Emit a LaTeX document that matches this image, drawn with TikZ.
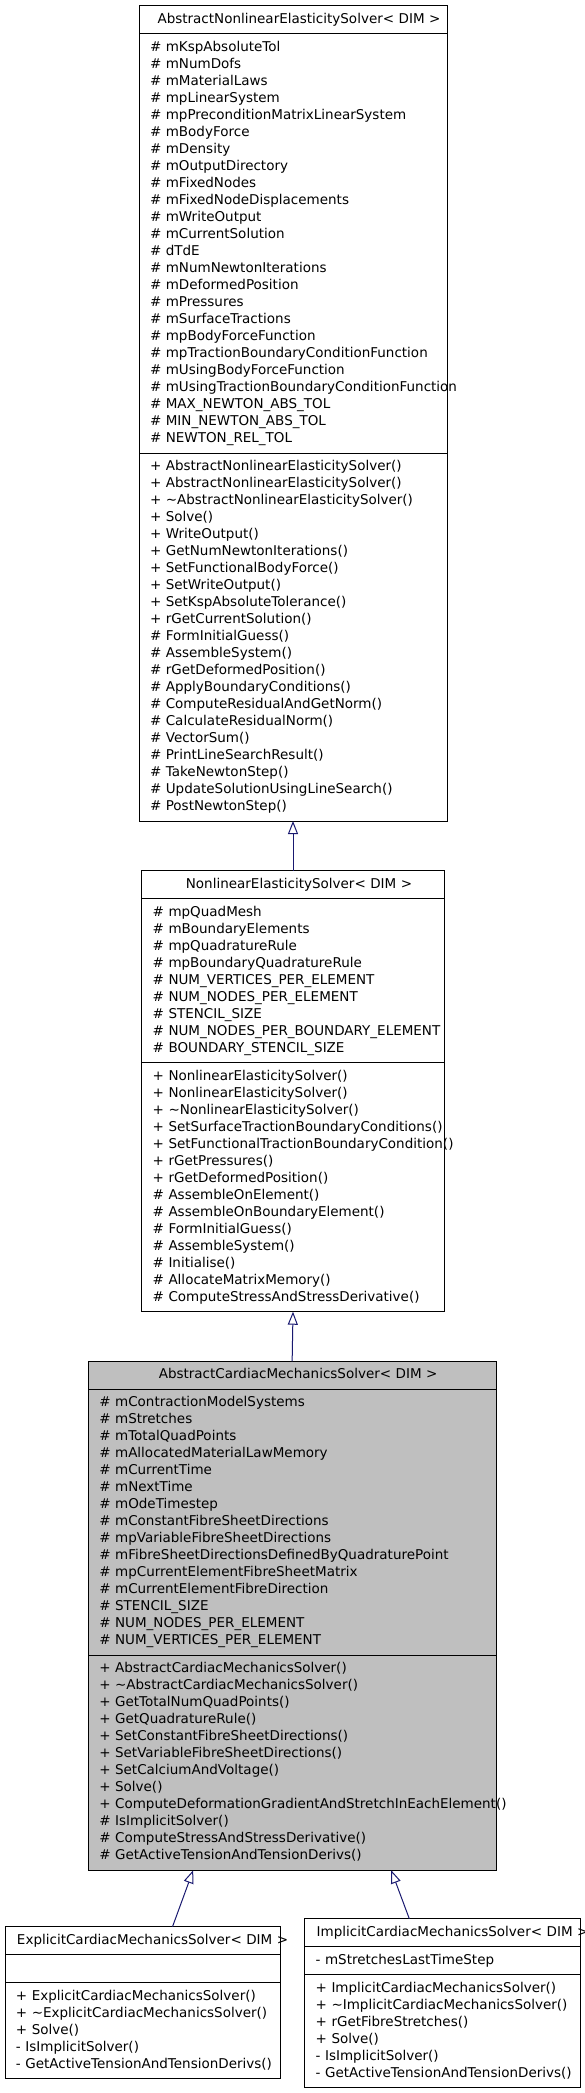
\documentclass[tikz,border=0pt]{standalone}
\usepackage{fontspec}
\setmainfont{DejaVu Sans}
\usetikzlibrary{positioning, arrows.meta}
\definecolor{classgray}{HTML}{BFBFBF}
\definecolor{edgenavy}{HTML}{191970}
\tikzset{
  classtitle/.style={draw, line width=1pt, outer sep=0pt, inner xsep=0pt, inner ysep=5.5pt, align=center},
  classpart/.style={draw, line width=1pt, outer sep=0pt, inner xsep=11pt, inner ysep=5.5pt, align=left},
  inherit/.style={draw=edgenavy, line width=1pt, -{Triangle[open, length=13pt, width=10pt]}},
}
\newcommand{\classrows}[1]{\begin{tabular}{@{}l@{}}#1\end{tabular}}

\begin{document}
\begin{tikzpicture}[x=1pt, y=1pt, font=\fontsize{13.5}{17}\selectfont]
    \useasboundingbox (0,0) rectangle (584,-2093);

    % AbstractNonlinearElasticitySolver
    \node[classtitle, text width=308pt, anchor=north west] (anes) at (139,-6) {\mbox{\kern12pt\strut AbstractNonlinearElasticitySolver< DIM >}};
    \node[classpart, text width=286pt, below=0pt of anes] (anes-a) {\classrows{%
        \# mKspAbsoluteTol\\
        \# mNumDofs\\
        \# mMaterialLaws\\
        \# mpLinearSystem\\
        \# mpPreconditionMatrixLinearSystem\\
        \# mBodyForce\\
        \# mDensity\\
        \# mOutputDirectory\\
        \# mFixedNodes\\
        \# mFixedNodeDisplacements\\
        \# mWriteOutput\\
        \# mCurrentSolution\\
        \# dTdE\\
        \# mNumNewtonIterations\\
        \# mDeformedPosition\\
        \# mPressures\\
        \# mSurfaceTractions\\
        \# mpBodyForceFunction\\
        \# mpTractionBoundaryConditionFunction\\
        \# mUsingBodyForceFunction\\
        \# mUsingTractionBoundaryConditionFunction\\
        \# MAX\_NEWTON\_ABS\_TOL\\
        \# MIN\_NEWTON\_ABS\_TOL\\
        \# NEWTON\_REL\_TOL}};
    \node[classpart, text width=286pt, below=0pt of anes-a] (anes-m) {\classrows{%
        + AbstractNonlinearElasticitySolver()\\
        + AbstractNonlinearElasticitySolver()\\
        + \textasciitilde AbstractNonlinearElasticitySolver()\\
        + Solve()\\
        + WriteOutput()\\
        + GetNumNewtonIterations()\\
        + SetFunctionalBodyForce()\\
        + SetWriteOutput()\\
        + SetKspAbsoluteTolerance()\\
        + rGetCurrentSolution()\\
        \# FormInitialGuess()\\
        \# AssembleSystem()\\
        \# rGetDeformedPosition()\\
        \# ApplyBoundaryConditions()\\
        \# ComputeResidualAndGetNorm()\\
        \# CalculateResidualNorm()\\
        \# VectorSum()\\
        \# PrintLineSearchResult()\\
        \# TakeNewtonStep()\\
        \# UpdateSolutionUsingLineSearch()\\
        \# PostNewtonStep()}};

    % NonlinearElasticitySolver
    \node[classtitle, text width=302.6pt, anchor=north west] (nes) at (141.7,-870.7) {\mbox{\kern12pt\strut NonlinearElasticitySolver< DIM >}};
    \node[classpart, text width=280.6pt, below=0pt of nes] (nes-a) {\classrows{%
        \# mpQuadMesh\\
        \# mBoundaryElements\\
        \# mpQuadratureRule\\
        \# mpBoundaryQuadratureRule\\
        \# NUM\_VERTICES\_PER\_ELEMENT\\
        \# NUM\_NODES\_PER\_ELEMENT\\
        \# STENCIL\_SIZE\\
        \# NUM\_NODES\_PER\_BOUNDARY\_ELEMENT\\
        \# BOUNDARY\_STENCIL\_SIZE}};
    \node[classpart, text width=280.6pt, below=0pt of nes-a] (nes-m) {\classrows{%
        + NonlinearElasticitySolver()\\
        + NonlinearElasticitySolver()\\
        + \textasciitilde NonlinearElasticitySolver()\\
        + SetSurfaceTractionBoundaryConditions()\\
        + SetFunctionalTractionBoundaryCondition()\\
        + rGetPressures()\\
        + rGetDeformedPosition()\\
        \# AssembleOnElement()\\
        \# AssembleOnBoundaryElement()\\
        \# FormInitialGuess()\\
        \# AssembleSystem()\\
        \# Initialise()\\
        \# AllocateMatrixMemory()\\
        \# ComputeStressAndStressDerivative()}};

    % AbstractCardiacMechanicsSolver
    \node[classtitle, fill=classgray, text width=407.7pt, anchor=north west] (acms) at (88.3,-1361.3) {\mbox{\kern12pt\strut AbstractCardiacMechanicsSolver< DIM >}};
    \node[classpart, fill=classgray, text width=385.7pt, below=0pt of acms] (acms-a) {\classrows{%
        \# mContractionModelSystems\\
        \# mStretches\\
        \# mTotalQuadPoints\\
        \# mAllocatedMaterialLawMemory\\
        \# mCurrentTime\\
        \# mNextTime\\
        \# mOdeTimestep\\
        \# mConstantFibreSheetDirections\\
        \# mpVariableFibreSheetDirections\\
        \# mFibreSheetDirectionsDefinedByQuadraturePoint\\
        \# mpCurrentElementFibreSheetMatrix\\
        \# mCurrentElementFibreDirection\\
        \# STENCIL\_SIZE\\
        \# NUM\_NODES\_PER\_ELEMENT\\
        \# NUM\_VERTICES\_PER\_ELEMENT}};
    \node[classpart, fill=classgray, text width=385.7pt, below=0pt of acms-a] (acms-m) {\classrows{%
        + AbstractCardiacMechanicsSolver()\\
        + \textasciitilde AbstractCardiacMechanicsSolver()\\
        + GetTotalNumQuadPoints()\\
        + GetQuadratureRule()\\
        + SetConstantFibreSheetDirections()\\
        + SetVariableFibreSheetDirections()\\
        + SetCalciumAndVoltage()\\
        + Solve()\\
        + ComputeDeformationGradientAndStretchInEachElement()\\
        \# IsImplicitSolver()\\
        \# ComputeStressAndStressDerivative()\\
        \# GetActiveTensionAndTensionDerivs()}};

    % ExplicitCardiacMechanicsSolver
    \node[classtitle, text width=275pt, anchor=north west] (ecms) at (5,-1926.7) {\mbox{\kern12pt\strut ExplicitCardiacMechanicsSolver< DIM >}};
    \node[classpart, text width=253pt, below=0pt of ecms] (ecms-a) {\strut};
    \node[classpart, text width=253pt, below=0pt of ecms-a] (ecms-m) {\classrows{%
        + ExplicitCardiacMechanicsSolver()\\
        + \textasciitilde ExplicitCardiacMechanicsSolver()\\
        + Solve()\\
        - IsImplicitSolver()\\
        - GetActiveTensionAndTensionDerivs()}};

    % ImplicitCardiacMechanicsSolver
    \node[classtitle, text width=276pt, anchor=north west] (icms) at (304.7,-1918.7) {\mbox{\kern12pt\strut ImplicitCardiacMechanicsSolver< DIM >}};
    \node[classpart, text width=254pt, below=0pt of icms] (icms-a) {\classrows{%
        - mStretchesLastTimeStep}};
    \node[classpart, text width=254pt, below=0pt of icms-a] (icms-m) {\classrows{%
        + ImplicitCardiacMechanicsSolver()\\
        + \textasciitilde ImplicitCardiacMechanicsSolver()\\
        + rGetFibreStretches()\\
        + Solve()\\
        - IsImplicitSolver()\\
        - GetActiveTensionAndTensionDerivs()}};

    % Inheritance
    \draw[inherit] (nes.north) -- (anes-m.south);
    \draw[inherit] (acms.north) -- (nes-m.south);
    \draw[inherit] ([xshift=30pt]ecms.north) -- ([xshift=-99pt]acms-m.south);
    \draw[inherit] ([xshift=-33.4pt]icms.north) -- ([xshift=99.1pt]acms-m.south);
\end{tikzpicture}
\end{document}
